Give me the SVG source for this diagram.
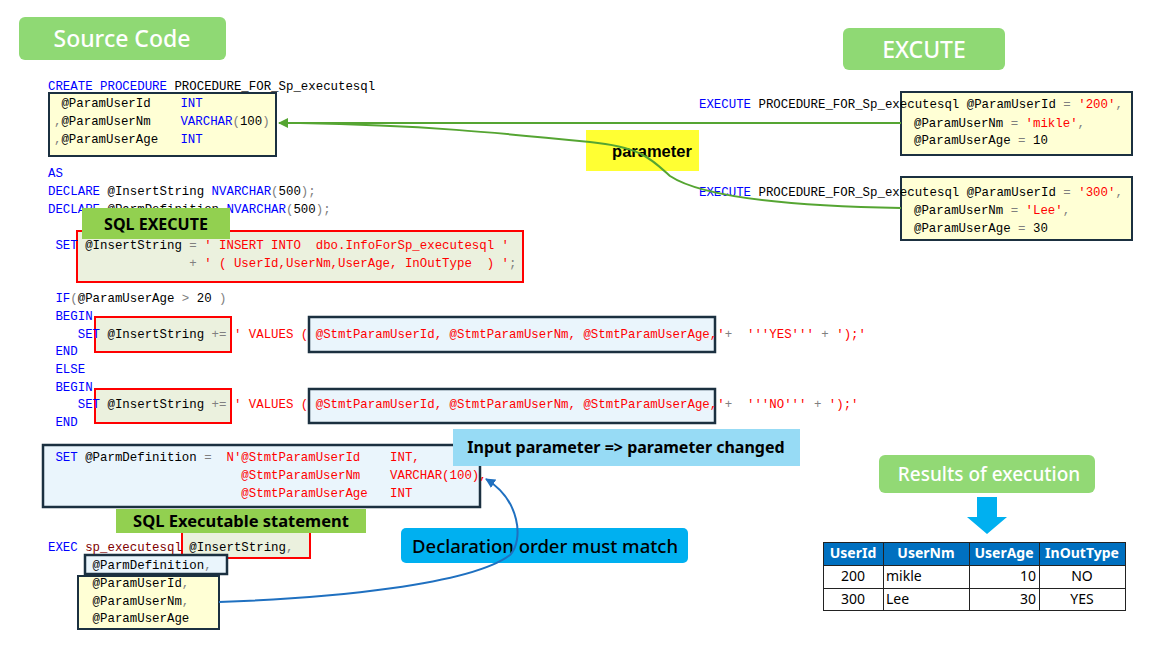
<svg xmlns="http://www.w3.org/2000/svg" width="1155" height="645" viewBox="0 0 1155 645" xml:space="preserve">
<style>
.code{font-family:"Liberation Mono",monospace;font-size:12.4px;fill:#000;white-space:pre}
.k{fill:#0000ff}.s{fill:#ff0000}.o{fill:#808080}.p{fill:#800000}
.ybox{fill:#ffffd5;stroke:#1b3040;stroke-width:2}
.bbox{fill:#eaf5fc;stroke:#1b3040;stroke-width:2.5}
.rbox{fill:#ebf1de;stroke:#ff0000;stroke-width:2}
.bigw{font-family:"Noto Sans",sans-serif;font-size:23px;fill:#fff;font-weight:500}
.lbl{font-family:"Noto Sans",sans-serif;font-weight:bold;fill:#000}
.th{font-family:"Noto Sans",sans-serif;font-size:14px;font-weight:bold;fill:#fff}
.td{font-family:"Noto Sans",sans-serif;font-size:14px;fill:#000}
.gl{fill:none;stroke:#55a532;stroke-width:2}
.bl{fill:none;stroke:#1f70c0;stroke-width:2}
</style>
<defs>
<marker id="ga" viewBox="0 0 10 10" refX="9" refY="5" markerWidth="5" markerHeight="5" orient="auto-start-reverse" markerUnits="strokeWidth"><path d="M0,0L10,5L0,10z" fill="#55a532"/></marker>
<marker id="ba" viewBox="0 0 10 10" refX="9" refY="5" markerWidth="5" markerHeight="5" orient="auto" markerUnits="strokeWidth"><path d="M0,0L10,5L0,10z" fill="#1f70c0"/></marker>
</defs>

<g id="title-source"><rect x="19" y="17" width="207" height="43" rx="6" fill="#8fd974"/><text class="bigw" x="122" y="47" text-anchor="middle">Source Code</text></g>
<g id="title-execute"><rect x="843" y="28" width="162" height="42" rx="6" fill="#8fd974"/><text class="bigw" x="924" y="58" text-anchor="middle">EXCUTE</text></g>

<g id="proc-code">
<rect class="ybox" x="49" y="93" width="227" height="63"/>
<text class="code" x="48" y="90"><tspan class="k">CREATE PROCEDURE</tspan> PROCEDURE_FOR_Sp_executesql</text>
<text class="code" x="54" y="107"> @ParamUserId    <tspan class="k">INT</tspan></text>
<text class="code" x="54" y="125"><tspan class="o">,</tspan>@ParamUserNm    <tspan class="k">VARCHAR</tspan><tspan class="o">(</tspan>100<tspan class="o">)</tspan></text>
<text class="code" x="54" y="143"><tspan class="o">,</tspan>@ParamUserAge   <tspan class="k">INT</tspan></text>
<text class="code" x="48" y="177"><tspan class="k">AS</tspan></text>
<text class="code" x="48" y="195"><tspan class="k">DECLARE</tspan> @InsertString <tspan class="k">NVARCHAR</tspan><tspan class="o">(</tspan>500<tspan class="o">);</tspan></text>
<text class="code" x="48" y="213"><tspan class="k">DECLARE</tspan> @ParmDefinition <tspan class="k">NVARCHAR</tspan><tspan class="o">(</tspan>500<tspan class="o">);</tspan></text>
</g>

<g id="sql-execute">
<rect class="rbox" x="77" y="231" width="446" height="51"/>
<text class="code" x="48" y="249"> <tspan class="k">SET</tspan> @InsertString <tspan class="o">=</tspan> <tspan class="s">' INSERT INTO  dbo.InfoForSp_executesql '</tspan></text>
<text class="code" x="48" y="267">                   <tspan class="o">+</tspan> <tspan class="s">' ( UserId,UserNm,UserAge, InOutType  ) '</tspan><tspan class="o">;</tspan></text>
<rect x="82" y="208" width="148" height="31" fill="#92d050"/>
<text class="lbl" x="156" y="230" font-size="16" text-anchor="middle">SQL EXECUTE</text>
</g>

<g id="if-block">
<rect class="rbox" x="95" y="317" width="136" height="35"/>
<rect class="bbox" x="309" y="317" width="406" height="35"/>
<rect class="rbox" x="95" y="389" width="136" height="34"/>
<rect class="bbox" x="309" y="389" width="406" height="34"/>
<text class="code" x="48" y="302"> <tspan class="k">IF</tspan><tspan class="o">(</tspan>@ParamUserAge <tspan class="o">&gt;</tspan> 20 <tspan class="o">)</tspan></text>
<text class="code" x="48" y="320"> <tspan class="k">BEGIN</tspan></text>
<text class="code" x="48" y="338">    <tspan class="k">SET</tspan> @InsertString <tspan class="o">+=</tspan> <tspan class="s">' VALUES ( @StmtParamUserId, @StmtParamUserNm, @StmtParamUserAge,'</tspan><tspan class="o">+</tspan>  <tspan class="s">'''YES'''</tspan> <tspan class="o">+</tspan> <tspan class="s">');'</tspan></text>
<text class="code" x="48" y="355"> <tspan class="k">END</tspan></text>
<text class="code" x="48" y="373"> <tspan class="k">ELSE</tspan></text>
<text class="code" x="48" y="391"> <tspan class="k">BEGIN</tspan></text>
<text class="code" x="48" y="408">    <tspan class="k">SET</tspan> @InsertString <tspan class="o">+=</tspan> <tspan class="s">' VALUES ( @StmtParamUserId, @StmtParamUserNm, @StmtParamUserAge,'</tspan><tspan class="o">+</tspan>  <tspan class="s">'''NO'''</tspan> <tspan class="o">+</tspan> <tspan class="s">');'</tspan></text>
<text class="code" x="48" y="426"> <tspan class="k">END</tspan></text>
</g>

<g id="parm-definition">
<rect class="bbox" x="43" y="445" width="437" height="62"/>
<text class="code" x="48" y="461"> <tspan class="k">SET</tspan> @ParmDefinition <tspan class="o">=</tspan>  <tspan class="s">N'@StmtParamUserId    INT,</tspan></text>
<text class="code" x="48" y="479">                          <tspan class="s">@StmtParamUserNm    VARCHAR(100),</tspan></text>
<text class="code" x="48" y="497">                          <tspan class="s">@StmtParamUserAge   INT</tspan></text>
</g>

<g id="exec-code">
<rect class="rbox" x="182" y="520" width="128" height="38"/>
<rect class="bbox" x="85" y="555" width="142" height="19"/>
<rect class="ybox" x="78" y="576" width="141" height="53"/>
<text class="code" x="48" y="551"><tspan class="k">EXEC</tspan> <tspan class="p">sp_executesql</tspan> @InsertString<tspan class="o">,</tspan></text>
<text class="code" x="48" y="569">      @ParmDefinition<tspan class="o">,</tspan></text>
<text class="code" x="48" y="587">      @ParamUserId<tspan class="o">,</tspan></text>
<text class="code" x="48" y="605">      @ParamUserNm<tspan class="o">,</tspan></text>
<text class="code" x="48" y="622">      @ParamUserAge</text>
<rect x="116" y="509" width="250" height="24" fill="#92d050"/>
<text class="lbl" x="241" y="527" font-size="16.5" text-anchor="middle">SQL Executable statement</text>
</g>

<g id="badge-input-param"><rect x="453" y="429" width="347" height="37" fill="#97dbf5"/><text class="lbl" x="626" y="453" font-size="16" text-anchor="middle">Input parameter =&gt; parameter changed</text></g>
<g id="badge-declaration"><rect x="401" y="528" width="287" height="35" rx="5" fill="#00b0f0"/><text font-family="Noto Sans, sans-serif" font-size="18.5" font-weight="500" fill="#000" x="545" y="553" text-anchor="middle">Declaration order must match</text></g>

<g id="execute-1">
<rect class="ybox" x="901" y="92" width="231" height="63"/>
<text class="code" x="699" y="108"><tspan class="k">EXECUTE</tspan> PROCEDURE_FOR_Sp_executesql @ParamUserId <tspan class="o">=</tspan> <tspan class="s">'200'</tspan><tspan class="o">,</tspan></text>
<text class="code" x="914" y="127">@ParamUserNm <tspan class="o">=</tspan> <tspan class="s">'mikle'</tspan><tspan class="o">,</tspan></text>
<text class="code" x="914" y="144">@ParamUserAge <tspan class="o">=</tspan> 10</text>
</g>
<g id="execute-2">
<rect class="ybox" x="901" y="177" width="231" height="63"/>
<text class="code" x="699" y="196"><tspan class="k">EXECUTE</tspan> PROCEDURE_FOR_Sp_executesql @ParamUserId <tspan class="o">=</tspan> <tspan class="s">'300'</tspan><tspan class="o">,</tspan></text>
<text class="code" x="914" y="214">@ParamUserNm <tspan class="o">=</tspan> <tspan class="s">'Lee'</tspan><tspan class="o">,</tspan></text>
<text class="code" x="914" y="232">@ParamUserAge <tspan class="o">=</tspan> 30</text>
</g>

<g id="badge-parameter"><rect x="586" y="130" width="113" height="41" fill="#ffff33"/><text font-family="Liberation Sans, Arial, sans-serif" font-size="16.5" font-weight="bold" fill="#000" x="652" y="157" text-anchor="middle">parameter</text></g>

<g id="results">
<rect x="879" y="455" width="216" height="38" rx="6" fill="#92d975"/>
<text font-family="Noto Sans, sans-serif" font-size="19" font-weight="500" fill="#fff" x="989" y="481" text-anchor="middle">Results of execution</text>
<path d="M977,497H997V517H1007L987,534L967,517H977Z" fill="#00b0f0"/>
<rect x="823" y="542" width="303" height="23" fill="#0070c0"/>
<rect x="823" y="565" width="303" height="46" fill="#fff"/>
<g stroke="#222" stroke-width="1" fill="none">
<rect x="823.5" y="542.5" width="302" height="68"/>
<path d="M823,565.5H1126M823,588.5H1126M883.5,542V611M969.5,542V611M1039.5,542V611"/>
</g>
<text class="th" x="853" y="558" text-anchor="middle">UserId</text>
<text class="th" x="926" y="558" text-anchor="middle">UserNm</text>
<text class="th" x="1004" y="558" text-anchor="middle">UserAge</text>
<text class="th" x="1082" y="558" text-anchor="middle">InOutType</text>
<text class="td" x="853" y="581" text-anchor="middle">200</text>
<text class="td" x="886" y="581">mikle</text>
<text class="td" x="1036" y="581" text-anchor="end">10</text>
<text class="td" x="1082" y="581" text-anchor="middle">NO</text>
<text class="td" x="853" y="604" text-anchor="middle">300</text>
<text class="td" x="886" y="604">Lee</text>
<text class="td" x="1036" y="604" text-anchor="end">30</text>
<text class="td" x="1082" y="604" text-anchor="middle">YES</text>
</g>

<g id="connectors">
<path class="gl" d="M901,123H279" marker-end="url(#ga)"/>
<path class="gl" d="M901,208C780,206 700,196 670,176C650,158 640,147 590,142C500,133 420,125 300,123"/>
<path class="bl" d="M219,602C330,598 470,585 510,555C524,540 520,500 486,479" marker-end="url(#ba)"/>
</g>
</svg>
